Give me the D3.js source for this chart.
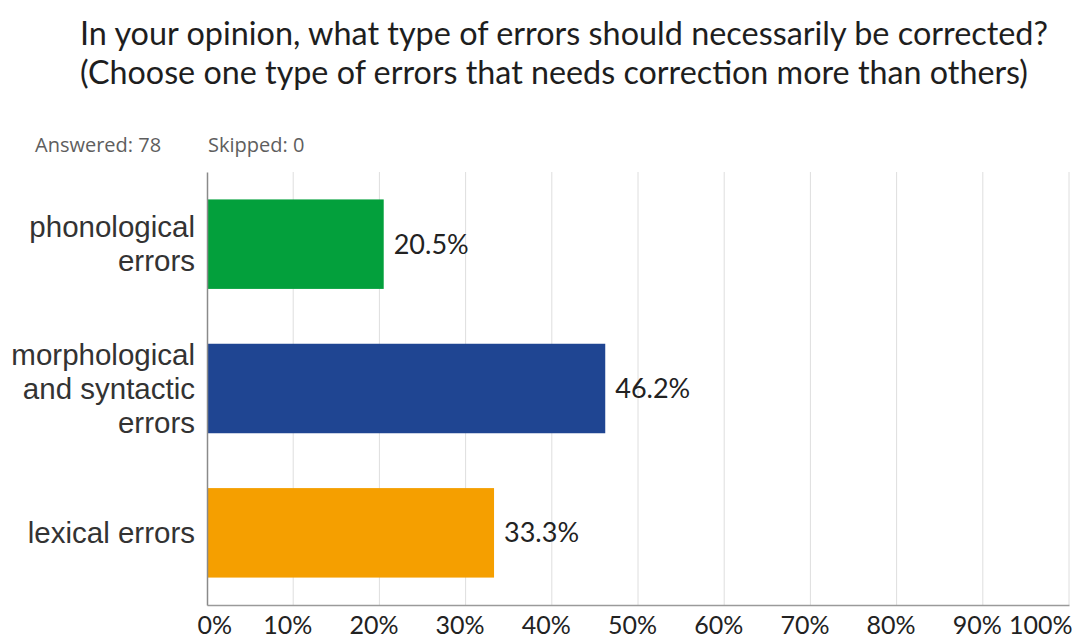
<!DOCTYPE html>
<html>
<head>
<meta charset="utf-8">
<script src="https://cdn.jsdelivr.net/npm/d3@7"></script>
<style>
  html, body { margin: 0; padding: 0; background: #fff; }
  svg { display: block; }
</style>
</head>
<body>
<svg id="chart" width="1077" height="639"></svg>
<script>
// Survey question and response summary
const titleLines = [
  "In your opinion, what type of errors should necessarily be corrected?",
  "(Choose one type of errors that needs correction more than others)"
];
const answered = 78;
const skipped = 0;

// Answer choices (multi-line labels) and share of respondents (%)
const categories = [
  ["phonological", "errors"],
  ["morphological", "and syntactic", "errors"],
  ["lexical errors"]
];
const values = [20.5, 46.2, 33.3];
const colors = ["#03A03C", "#1F4592", "#F59F00"];
const ticks = [0, 10, 20, 30, 40, 50, 60, 70, 80, 90, 100];

const svg = d3.select("#chart");
const plotLeft = 207, plotRight = 1069, plotTop = 172, plotBottom = 605;

const x = d3.scaleLinear().domain([0, 100]).range([plotLeft, plotRight]);
const y = d3.scaleBand()
  .domain(d3.range(categories.length))
  .range([plotTop, plotBottom])
  .paddingInner(0.38)
  .paddingOuter(0.19);

// Title
const title = svg.append("g")
  .attr("font-family", "Lato, 'Open Sans', sans-serif")
  .attr("fill", "#1e1e1e");
title.selectAll("text").data(titleLines).join("text")
  .attr("x", 80)
  .attr("y", (d, i) => 45 + i * 39)
  .attr("font-size", 33)
  .attr("textLength", (d, i) => i === 0 ? 968 : 948)
  .attr("lengthAdjust", "spacingAndGlyphs")
  .text(d => d);

// Response counts
const meta = svg.append("g")
  .attr("font-family", "'Open Sans', 'Noto Sans', sans-serif")
  .attr("font-size", 20)
  .attr("fill", "#5e5e5e");
meta.append("text").attr("x", 35).attr("y", 152).text(`Answered: ${answered}`);
meta.append("text").attr("x", 208).attr("y", 152).text(`Skipped: ${skipped}`);

// Vertical gridlines
svg.append("g")
  .selectAll("line").data(ticks.filter(t => t > 0)).join("line")
  .attr("x1", d => x(d)).attr("x2", d => x(d))
  .attr("y1", plotTop).attr("y2", plotBottom)
  .attr("stroke", "#dedede").attr("stroke-width", 1);

// Bars
svg.append("g")
  .selectAll("rect").data(values).join("rect")
  .attr("x", x(0))
  .attr("y", (d, i) => y(i))
  .attr("width", d => x(d) - x(0))
  .attr("height", y.bandwidth())
  .attr("fill", (d, i) => colors[i]);

// Value labels
svg.append("g")
  .attr("font-family", "Lato, 'Open Sans', sans-serif")
  .attr("font-size", 27)
  .attr("fill", "#222")
  .selectAll("text").data(values).join("text")
  .attr("x", d => x(d) + 10)
  .attr("y", (d, i) => y(i) + y.bandwidth() / 2)
  .attr("dy", "0.35em")
  .text(d => d.toFixed(1) + "%");

// Category labels
const lineH = 34;
const cat = svg.append("g")
  .attr("font-family", "'Liberation Sans', Arial, sans-serif")
  .attr("font-size", 29.5)
  .attr("fill", "#333")
  .attr("text-anchor", "end");
categories.forEach((lines, i) => {
  const cy = y(i) + y.bandwidth() / 2;
  const y0 = cy - (lines.length - 1) * lineH / 2;
  cat.append("text")
    .selectAll("tspan").data(lines).join("tspan")
    .attr("x", 195)
    .attr("y", (d, j) => y0 + j * lineH)
    .attr("dy", "0.35em")
    .text(d => d);
});

// Axes
const xAxis = d3.axisBottom(x)
  .tickValues(ticks)
  .tickSize(0)
  .tickFormat(d => d + "%");
const gx = svg.append("g")
  .attr("transform", `translate(0,${plotBottom})`)
  .call(xAxis);
gx.select(".domain").attr("stroke", "#9a9a9a").attr("stroke-width", 1.5);
// End labels are kept inside the plot edges; inner ones sit just left of their gridline
gx.selectAll(".tick text")
  .attr("font-family", "Lato, 'Open Sans', sans-serif")
  .attr("font-size", 25)
  .attr("fill", "#222")
  .attr("y", 29)
  .attr("dy", 0)
  .attr("x", d => d === 0 ? -10 : d === 100 ? 3 : -6)
  .attr("text-anchor", d => d === 0 ? "start" : d === 100 ? "end" : "middle");

const yAxis = d3.axisLeft(y).tickSize(0).tickFormat("");
const gy = svg.append("g")
  .attr("transform", `translate(${plotLeft},0)`)
  .call(yAxis);
gy.select(".domain").attr("stroke", "#8a8a8a").attr("stroke-width", 1.5);
</script>
</body>
</html>
